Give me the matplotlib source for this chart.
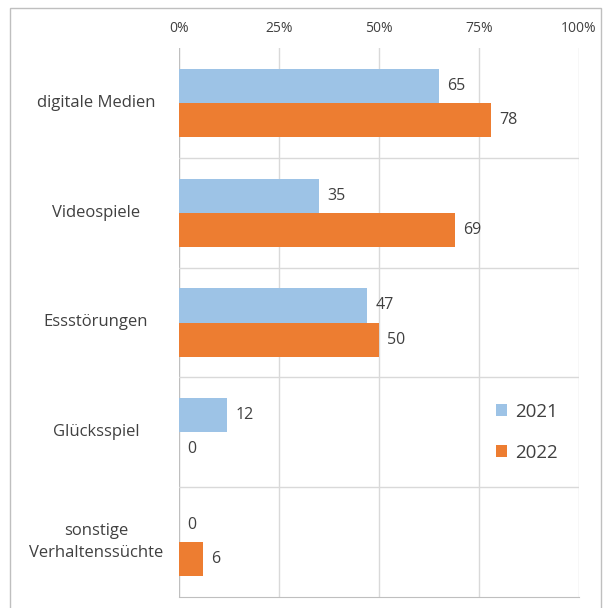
import matplotlib.pyplot as plt
from matplotlib.patches import Rectangle
from matplotlib.transforms import blended_transform_factory

categories = ["digitale Medien", "Videospiele", "Essstörungen", "Glücksspiel",
              "sonstige\nVerhaltenssüchte"]
values_2021 = [65, 35, 47, 12, 0]
values_2022 = [78, 69, 50, 0, 6]
series_labels = ["2021", "2022"]
xticks = [0, 25, 50, 75, 100]

plt.rcParams['font.family'] = ['Open Sans', 'DejaVu Sans']
text_col = "#404040"
grid_col = "#d9d9d9"
blue = "#9dc3e6"
orange = "#ed7d31"

fig = plt.figure(figsize=(6.03, 6.08), dpi=100)
ax = fig.add_axes([179 / 603, 1 - 597 / 608, 400 / 603, 549 / 608])

# outer frame of the chart
fig.patches.append(Rectangle((10 / 603, -0.01), 591 / 603, 1 - 8 / 608 + 0.01,
                             transform=fig.transFigure, fill=False,
                             edgecolor="#bfbfbf", linewidth=1))

pos = list(range(len(categories)))
h = 0.31
b1 = ax.barh([p - h / 2 for p in pos], values_2021, height=h, color=blue,
             label=series_labels[0], zorder=3)
b2 = ax.barh([p + h / 2 for p in pos], values_2022, height=h, color=orange,
             label=series_labels[1], zorder=3)
ax.bar_label(b1, padding=6, fontsize=11.5, color=text_col)
ax.bar_label(b2, padding=6, fontsize=11.5, color=text_col)

ax.set_xlim(0, 100)
ax.set_ylim(len(categories) - 0.5, -0.5)
ax.xaxis.tick_top()
ax.set_xticks(xticks)
ax.set_xticklabels([f"{t}%" for t in xticks], fontsize=10, color=text_col)
ax.tick_params(axis='x', length=0, pad=9)
ax.set_yticks([])

for t in xticks:
    ax.axvline(t, color=grid_col if t else "#bfbfbf", linewidth=1, zorder=1)
for y in [p + 0.5 for p in pos[:-1]]:
    ax.axhline(y, color=grid_col, linewidth=1, zorder=1)

for s in ["top", "right", "left"]:
    ax.spines[s].set_visible(False)
ax.spines["bottom"].set_color("#bfbfbf")

tr = blended_transform_factory(fig.transFigure, ax.transData)
for p, c in zip(pos, categories):
    ax.text(96 / 603, p, c, transform=tr, ha="center", va="center",
            fontsize=12, color=text_col, linespacing=1.45)

ax.legend(loc="center left", bbox_to_anchor=(0.75, 0.30), frameon=False,
          fontsize=13.5, labelcolor=text_col, handlelength=0.6, handleheight=0.6,
          handletextpad=0.4, labelspacing=1.25)

fig.savefig("out.png", dpi=100)
